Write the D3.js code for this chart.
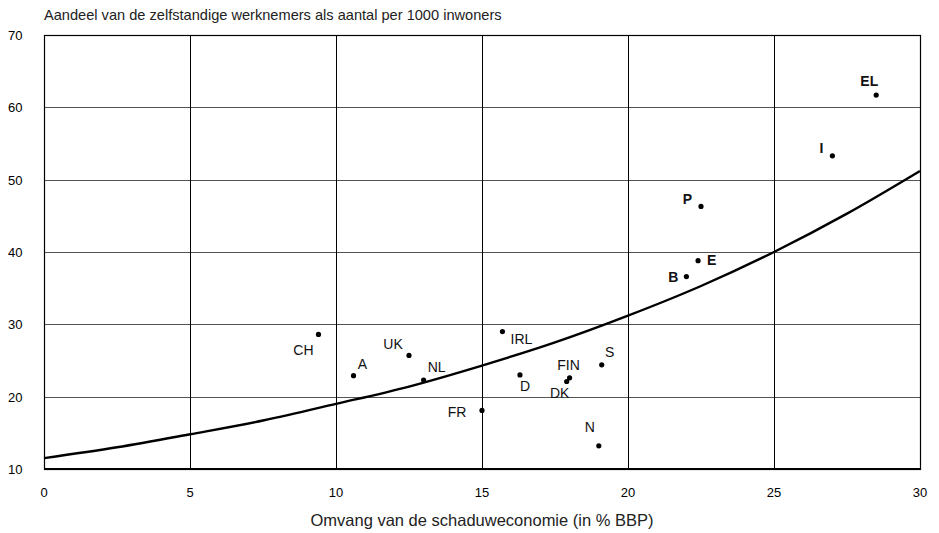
<!DOCTYPE html>
<html>
<head>
<meta charset="utf-8">
<script src="https://cdn.jsdelivr.net/npm/d3@7"></script>
<style>
  body { margin: 0; background: #fff; }
  text { font-family: "Liberation Sans", Arial, sans-serif; }
</style>
</head>
<body>
<script>
const countries = ["EL", "I", "P", "E", "B", "CH", "UK", "A", "NL", "IRL", "D", "FIN", "DK", "S", "FR", "N"];
const shadowEconomy = [28.5, 27.0, 22.5, 22.4, 22.0, 9.4, 12.5, 10.6, 13.0, 15.7, 16.3, 18.0, 17.9, 19.1, 15.0, 19.0];
const selfEmployed = [61.7, 53.3, 46.3, 38.8, 36.6, 28.6, 25.7, 22.9, 22.3, 29.0, 23.0, 22.6, 22.1, 24.4, 18.1, 13.2];
const boldLabels = ["EL", "I", "P", "E", "B"];

// trend line
const trendX = [0, 2.5, 5, 7.5, 10, 12.5, 15, 17.5, 20, 22.5, 25, 27.5, 30];
const trendY = [11.5, 13.0, 14.8, 16.7, 19.0, 21.4, 24.3, 27.5, 31.2, 35.3, 40.0, 45.3, 51.2];

const xTicks = [0, 5, 10, 15, 20, 25, 30];
const yTicks = [10, 20, 30, 40, 50, 60, 70];

// label offsets relative to the point: [dx, dy, anchor]
const labelPos = {
  EL: [2, -9, "end"], I: [-9, -3, "end"], P: [-9, -2, "end"], E: [9, 4, "start"],
  B: [-8, 5, "end"], CH: [-15, 21, "middle"], UK: [-16, -6, "middle"], A: [9, -7, "middle"],
  NL: [13, -8, "middle"], IRL: [19, 12, "middle"], D: [5, 16, "middle"], FIN: [-1, -8, "middle"],
  DK: [-7, 17, "middle"], S: [8, -8, "middle"], FR: [-25, 7, "middle"], N: [-9, -14, "middle"]
};

const margin = {top: 35, right: 19, bottom: 64, left: 44},
    width = 939 - margin.left - margin.right,
    height = 533 - margin.top - margin.bottom;

const x = d3.scaleLinear().domain([0, 30]).range([0, width]);
const y = d3.scaleLinear().domain([10, 70]).range([height, 0]);

const svg = d3.select("body").append("svg")
    .attr("width", 939)
    .attr("height", 533)
    .append("g")
    .attr("transform", "translate(" + margin.left + "," + margin.top + ")");

// horizontal grid
svg.append("g")
    .selectAll("line")
    .data(yTicks)
    .enter().append("line")
    .attr("x1", 0).attr("x2", width)
    .attr("y1", d => Math.round(y(d)) + 0.5).attr("y2", d => Math.round(y(d)) + 0.5)
    .attr("stroke", "#555")
    .attr("stroke-width", 1);

// vertical grid
svg.append("g")
    .selectAll("line")
    .data(xTicks)
    .enter().append("line")
    .attr("x1", d => Math.round(x(d)) + 0.5).attr("x2", d => Math.round(x(d)) + 0.5)
    .attr("y1", 0).attr("y2", height)
    .attr("stroke", "#000")
    .attr("stroke-width", 1);

// frame
svg.append("rect")
    .attr("x", 0.5).attr("y", 0.5)
    .attr("width", width).attr("height", height)
    .attr("fill", "none")
    .attr("stroke", "#000")
    .attr("stroke-width", 1.2);

svg.append("line")
    .attr("x1", 0).attr("x2", width)
    .attr("y1", height).attr("y2", height)
    .attr("stroke", "#000")
    .attr("stroke-width", 2);

// tick labels
svg.append("g")
    .selectAll("text")
    .data(yTicks)
    .enter().append("text")
    .attr("x", -36)
    .attr("y", d => y(d) + 5)
    .attr("font-size", 13)
    .text(d => d);

svg.append("g")
    .selectAll("text")
    .data(xTicks)
    .enter().append("text")
    .attr("x", d => x(d))
    .attr("y", height + 28)
    .attr("text-anchor", "middle")
    .attr("font-size", 13)
    .text(d => d);

// titles
svg.append("text")
    .attr("x", 0)
    .attr("y", -15)
    .attr("font-size", 14.6)
    .attr("fill", "#222")
    .text("Aandeel van de zelfstandige werknemers als aantal per 1000 inwoners");

svg.append("text")
    .attr("x", width / 2)
    .attr("y", height + 57)
    .attr("text-anchor", "middle")
    .attr("font-size", 16.5)
    .attr("fill", "#222")
    .text("Omvang van de schaduweconomie (in % BBP)");

// trend line
const line = d3.line()
    .x(d => x(d[0]))
    .y(d => y(d[1]))
    .curve(d3.curveMonotoneX);

svg.append("path")
    .datum(d3.zip(trendX, trendY))
    .attr("d", line)
    .attr("fill", "none")
    .attr("stroke", "#000")
    .attr("stroke-width", 2.4);

// points
const pts = svg.append("g")
    .selectAll("g")
    .data(countries.map((c, i) => ({name: c, sx: shadowEconomy[i], se: selfEmployed[i]})))
    .enter().append("g")
    .attr("transform", d => "translate(" + x(d.sx) + "," + y(d.se) + ")");

pts.append("circle")
    .attr("r", 2.6)
    .attr("fill", "#000");

pts.append("text")
    .attr("x", d => labelPos[d.name][0])
    .attr("y", d => labelPos[d.name][1])
    .attr("text-anchor", d => labelPos[d.name][2])
    .attr("font-size", 14)
    .attr("font-weight", d => boldLabels.includes(d.name) ? "bold" : "normal")
    .attr("fill", "#111")
    .text(d => d.name);
</script>
</body>
</html>
